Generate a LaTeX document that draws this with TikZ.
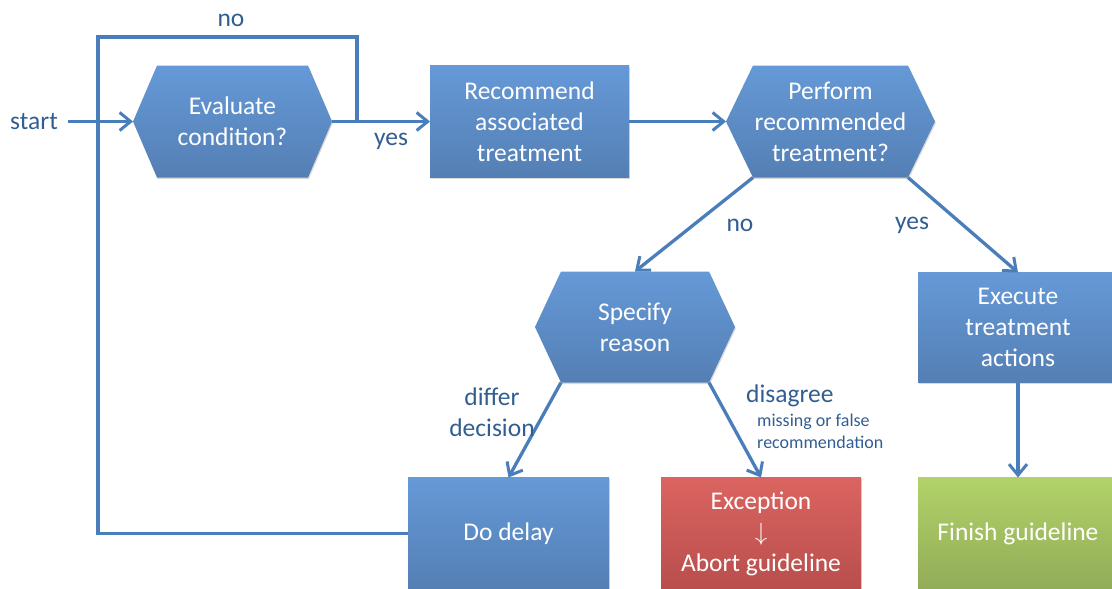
\documentclass[tikz,border=0pt]{standalone}
\usepackage{fontspec}
\setmainfont{Carlito}
\usetikzlibrary{arrows.meta,calc,backgrounds,shadows}

\definecolor{conn}{RGB}{74,126,187}
\definecolor{lbl}{RGB}{49,94,145}
\definecolor{bluetop}{RGB}{101,153,215}
\definecolor{bluebot}{RGB}{84,127,180}
\definecolor{redtop}{RGB}{219,100,96}
\definecolor{redbot}{RGB}{184,78,76}
\definecolor{greentop}{RGB}{178,210,105}
\definecolor{greenbot}{RGB}{146,172,87}

\tikzset{
  softshadow/.style={drop shadow={shadow xshift=0.8pt,shadow yshift=-1.6pt,opacity=0.25,fill=black!60}},
  boxtext/.style={text=white,align=center,font=\fontsize{25.5}{31}\selectfont,
    inner sep=0pt,outer sep=0pt,minimum height=112pt},
  bluebox/.style={boxtext,rectangle,softshadow,top color=bluetop,bottom color=bluebot,minimum width=200pt},
  redbox/.style={boxtext,rectangle,softshadow,top color=redtop,bottom color=redbot,minimum width=200pt},
  greenbox/.style={boxtext,rectangle,softshadow,top color=greentop,bottom color=greenbot,minimum width=200pt},
  hexnode/.style={boxtext,rectangle},
  hexfill/.style={softshadow,top color=bluetop,bottom color=bluebot},
  link/.style={draw=conn,line width=3.3pt},
  arr/.style={link,-{Straight Barb[length=11pt,width=18pt,line width=3pt]}},
  lab/.style={text=lbl,font=\fontsize{25.5}{31}\selectfont,inner sep=0pt,align=center},
  smalllab/.style={text=lbl,font=\fontsize{18}{22}\selectfont,inner sep=0pt,align=left},
}

% hexagon behind a named node: #1 node name, #2 corner inset
\newcommand{\hexbody}[2]{%
  \path[hexfill] (#1.west) -- ($(#1.north west)+(#2,0)$) -- ($(#1.north east)+(-#2,0)$)
    -- (#1.east) -- ($(#1.south east)+(-#2,0)$) -- ($(#1.south west)+(#2,0)$) -- cycle;}

\begin{document}
\begin{tikzpicture}[x=1pt,y=-1pt]
\useasboundingbox (0,0) rectangle (1112,589);
\clip (0,0) rectangle (1112,589);

% decision hexagons (text nodes, bodies drawn on the background layer)
\node[hexnode,minimum width=199pt] (eval) at (232.5,121.5) {Evaluate\\condition?};
\node[hexnode,minimum width=209pt] (perf) at (830.5,121.5) {Perform\\recommended\\treatment?};
\node[hexnode,minimum width=200pt,minimum height=111pt] (spec) at (635,327) {Specify\\reason};
\begin{scope}[on background layer]
  \hexbody{eval}{24}
  \hexbody{perf}{27}
  \hexbody{spec}{26}
\end{scope}

% process boxes
\node[bluebox,minimum width=199pt] (rec) at (529.5,121.5) {Recommend\\associated\\treatment};
\node[bluebox,minimum height=110pt] (exec) at (1018,327.5) {Execute\\treatment\\actions};
\node[bluebox,minimum width=201pt] (delay) at (508.5,533.5) {Do delay};
\node[redbox] (exc) at (761,533.5) {Exception\\$\downarrow$\\Abort guideline};
\node[greenbox] (fin) at (1018,533.5) {Finish guideline};

% start
\node[lab,anchor=east] (start) at (58,122) {start};
\draw[arr,shorten <=10pt] (start.east |- eval.west) -- (eval.west);

% evaluation loop
\coordinate (jn) at (357,121.5);
\coordinate (loopTR) at (357,37);
\coordinate (loopTL) at (98,37);
\coordinate (loopBL) at (98,533.5);
\draw[link,line join=miter] (delay.west) -- (loopBL) -- (loopTL) -- (loopTR) -- (jn);
\node[lab] (nolbl) at (231,20) {no};

\draw[arr] (eval.east) -- (rec.west);
\node[lab] (yeslbl) at (391,141) {yes};
\draw[arr] (rec.east) -- (perf.west);

% branches from the treatment decision
\coordinate (perfBL) at ($(perf.south west)+(27,0)$);
\coordinate (perfBR) at ($(perf.south east)+(-27,0)$);
\draw[arr] (perfBL) -- (spec.north);
\draw[arr] (perfBR) -- (exec.north);
\node[lab] (no2) at (740,225) {no};
\node[lab] (yes2) at (912,225) {yes};

% branches from the reason
\coordinate (specBL) at ($(spec.south west)+(26,0)$);
\coordinate (specBR) at ($(spec.south east)+(-26,0)$);
\draw[arr] (specBL) -- (delay.north);
\draw[arr] (specBR) -- (exc.north);
\node[lab] (differ) at (492,412) {differ\\decision};
\node[lab,anchor=west] (disagree) at (746,396) {disagree};
\node[smalllab,anchor=north west] (reasonnote) at (757,414) {missing or false\\recommendation};

\draw[arr] (exec.south) -- (fin.north);
\end{tikzpicture}
\end{document}
